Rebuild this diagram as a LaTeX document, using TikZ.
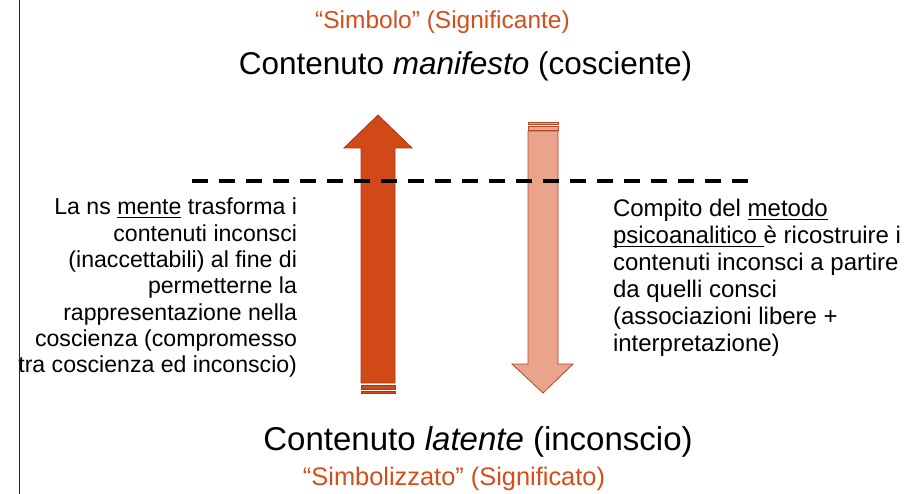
\documentclass[tikz,border=0pt]{standalone}
\usepackage{fontspec}
\setmainfont{Liberation Sans}
\definecolor{orangetxt}{RGB}{212,78,26}
\definecolor{upfill}{RGB}{209,73,22}
\definecolor{updraw}{RGB}{168,56,18}
\definecolor{downfill}{RGB}{233,164,139}
\definecolor{downdraw}{RGB}{180,70,40}
\newcommand\myul[1]{\setbox0\hbox{#1}\rlap{\rule[-3.2pt]{\wd0}{1.1pt}}\box0\relax}
\begin{document}
\begin{tikzpicture}[x=1pt,y=-1pt,
  txt/.style={inner sep=0pt,outer sep=0pt,font=\fontsize{24}{26.8}\selectfont},
  ltxt/.style={inner sep=0pt,outer sep=0pt,anchor=base east,font=\fontsize{23.1}{26.3}\selectfont},
  ttl/.style={inner sep=0pt,outer sep=0pt,anchor=base,font=\fontsize{31.5}{36}\selectfont},
  org/.style={inner sep=0pt,outer sep=0pt,anchor=base,text=orangetxt,font=\fontsize{24.5}{28}\selectfont},
  uparrow/.style={fill=upfill,draw=updraw,line width=0.8pt},
  downarrow/.style={fill=downfill,draw=downdraw,line width=0.8pt},
  levelline/.style={line width=3.5pt,dash pattern=on 16pt off 11pt}]
\useasboundingbox (0,0) rectangle (910,494);
\fill[white] (0,0) rectangle (910,494);
% left text
\node[ltxt] (l1) at (297,215) {La ns \myul{mente} trasforma i};
\node[ltxt] (l2) at (297,241.3) {contenuti inconsci};
\node[ltxt] (l3) at (297,267.6) {(inaccettabili) al fine di};
\node[ltxt] (l4) at (297,293.9) {permetterne la};
\node[ltxt] (l5) at (297,320.2) {rappresentazione nella};
\node[ltxt] (l6) at (297,346.5) {coscienza (compromesso};
\node[ltxt] (l7) at (297,372.8) {tra coscienza ed inconscio)};
% left border line
\coordinate (vt) at (19.5,0);
\coordinate (vb) at (19.5,494);
\draw[line width=1pt,black!85] (vt) -- (vb);
% titles
\node[org] (s1) at (442.5,29) {“Simbolo” (Significante)};
\node[ttl] (t1) at (465.5,75) {Contenuto \textit{manifesto} (cosciente)};
\node[ttl,font=\fontsize{33}{38}\selectfont] (t2) at (478,450) {Contenuto \textit{latente} (inconscio)};
\node[org,font=\fontsize{25.4}{29}\selectfont] (s2) at (454,485) {“Simbolizzato” (Significato)};
% up arrow
\path[uparrow] (361,383) -- (361,148) -- (344,148) -- (378,115) -- (412,148) -- (395,148) -- (395,383) -- cycle;
\path[uparrow] (361,385) rectangle (395,389);
\path[uparrow] (361,391) rectangle (395,393.3);
% down arrow
\path[downarrow] (528,131) -- (558,131) -- (558,364) -- (573,364) -- (543,393) -- (512,364) -- (528,364) -- cycle;
\path[downarrow] (528,122) rectangle (558,124.3);
\path[downarrow] (528,126) rectangle (558,130);
% dashed line
\coordinate (dl) at (192,181);
\coordinate (dr) at (748,181);
\draw[levelline] (dl) -- (dr);
% right text
\node[txt,anchor=base west] (r1) at (613,216.5) {Compito del \myul{metodo}};
\node[txt,anchor=base west] (r2) at (613,243.5) {\myul{psicoanalitico }è ricostruire i};
\node[txt,anchor=base west] (r3) at (613,270.5) {contenuti inconsci a partire};
\node[txt,anchor=base west] (r4) at (613,297.5) {da quelli consci};
\node[txt,anchor=base west] (r5) at (613,324.5) {(associazioni libere +};
\node[txt,anchor=base west] (r6) at (613,351.5) {interpretazione)};
\end{tikzpicture}
\end{document}
